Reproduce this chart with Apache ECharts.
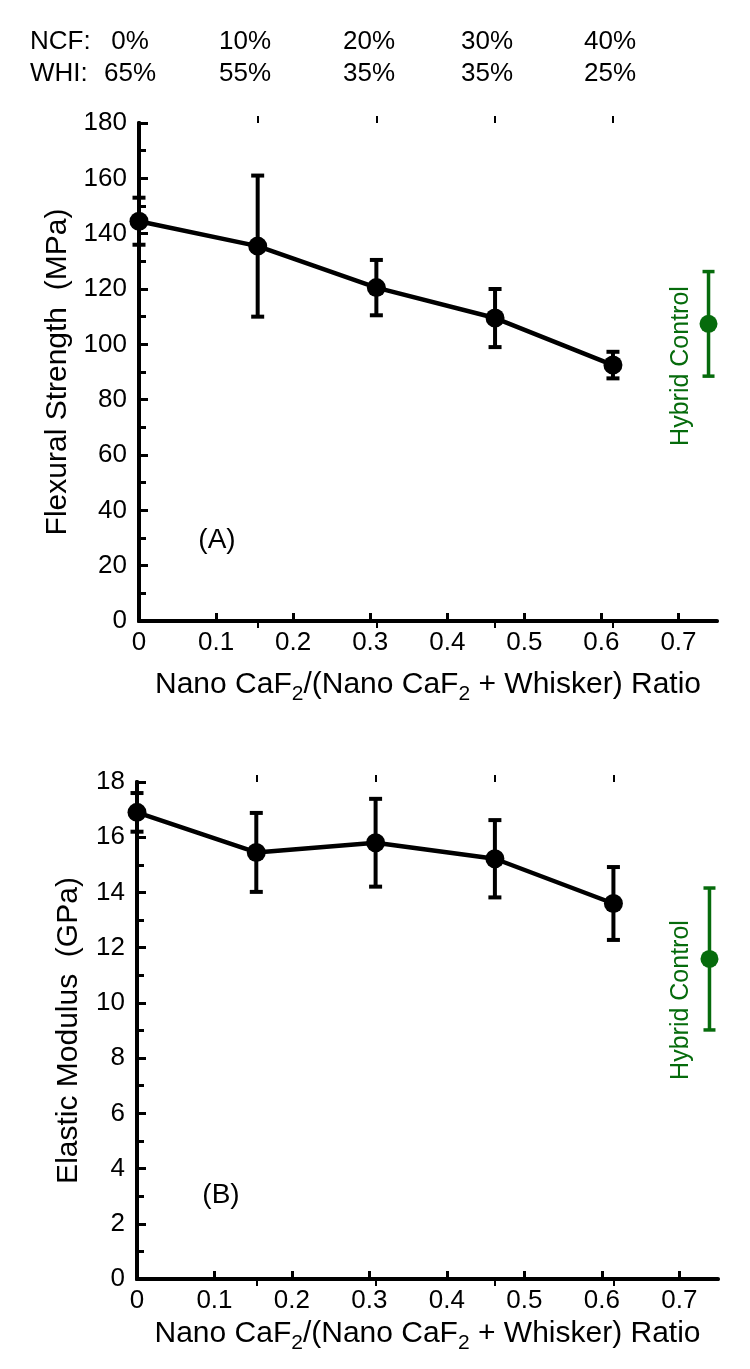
<!DOCTYPE html>
<html>
<head>
<meta charset="utf-8">
<script src="https://cdn.jsdelivr.net/npm/echarts@6/dist/echarts.min.js"></script>
<style>
html,body{margin:0;padding:0;background:#fff;}
#chart{width:750px;height:1369px;}
</style>
</head>
<body>
<div id="chart"></div>
<script>
// ---- data ----
const ratio = [0, 0.154, 0.308, 0.462, 0.615];
const ncfLabels = ['0%', '10%', '20%', '30%', '40%'];
const whiLabels = ['65%', '55%', '35%', '35%', '25%'];
const flexMean = [144.5, 135.5, 120.5, 109.5, 92.5];
const flexSD = [8.5, 25.5, 10, 10.5, 4.8];
const modMean = [16.9, 15.45, 15.8, 15.22, 13.6];
const modSD = [0.7, 1.43, 1.59, 1.4, 1.32];
const controlRatio = [0.739];
const controlFlexMean = [107.4];
const controlFlexSD = [18.9];
const controlModMean = [11.59];
const controlModSD = [2.57];
const xTicks = [0, 0.1, 0.2, 0.3, 0.4, 0.5, 0.6, 0.7];

const BLACK = '#000';
const GREEN = '#066b0c';
const FONT = 'Liberation Sans, Arial, sans-serif';

const chart = echarts.init(document.getElementById('chart'), null, {renderer: 'canvas'});

function errRender(color, lw, capW) {
  return function (params, api) {
    const x = api.value(0), lo = api.value(1), hi = api.value(2);
    const p1 = api.coord([x, lo]), p2 = api.coord([x, hi]);
    const st = {stroke: color, lineWidth: lw};
    return {
      type: 'group',
      children: [
        {type: 'line', shape: {x1: p1[0], y1: p1[1], x2: p2[0], y2: p2[1]}, style: st},
        {type: 'line', shape: {x1: p1[0] - capW / 2, y1: p1[1], x2: p1[0] + capW / 2, y2: p1[1]}, style: st},
        {type: 'line', shape: {x1: p2[0] - capW / 2, y1: p2[1], x2: p2[0] + capW / 2, y2: p2[1]}, style: st}
      ]
    };
  };
}
function errData(xs, m, s) { return xs.map((x, i) => [x, m[i] - s[i], m[i] + s[i]]); }
function pts(xs, m) { return xs.map((x, i) => [x, m[i]]); }

const xName = '{a|Nano CaF}{s|2}{a|/(Nano CaF}{s|2}{a| + Whisker) Ratio}';
const xNameStyle = {
  rich: {
    a: {fontSize: 30, fontFamily: FONT, color: BLACK, height: 32, lineHeight: 32, verticalAlign: 'top'},
    s: {fontSize: 21, fontFamily: FONT, color: BLACK, height: 50, lineHeight: 50, verticalAlign: 'top'}
  }
};

function bottomX(grid, gap) {
  return {
    type: 'value', gridIndex: grid, position: 'bottom', min: 0, max: 0.75, interval: 0.1,
    axisLine: {show: true, lineStyle: {color: BLACK, width: 4}},
    axisTick: {show: true, inside: true, length: 8, lineStyle: {color: BLACK, width: 3}, customValues: xTicks},
    axisLabel: {show: true, fontSize: 26, fontFamily: FONT, color: BLACK, margin: 9, customValues: xTicks},
    splitLine: {show: false},
    name: xName, nameLocation: 'middle', nameGap: gap, nameTextStyle: xNameStyle
  };
}
function topX(grid, inside, showLine) {
  return {
    type: 'value', gridIndex: grid, position: 'top', min: 0, max: 0.75,
    axisLine: {show: showLine, lineStyle: {color: BLACK, width: 3}},
    axisTick: {show: true, inside: inside, length: 7, lineStyle: {color: BLACK, width: 2}, customValues: ratio.slice(1)},
    axisLabel: {show: false},
    splitLine: {show: false}
  };
}
function leftY(grid, max, interval, name, gap) {
  return {
    type: 'value', gridIndex: grid, position: 'left', min: 0, max: max, interval: interval,
    axisLine: {show: true, lineStyle: {color: BLACK, width: 4}},
    axisTick: {show: true, inside: true, length: 9, lineStyle: {color: BLACK, width: 3}},
    minorTick: {show: true, splitNumber: 2, length: 7, lineStyle: {color: BLACK, width: 3}},
    axisLabel: {fontSize: 26, fontFamily: FONT, color: BLACK, margin: 12},
    splitLine: {show: false},
    name: name, nameLocation: 'middle', nameGap: gap,
    nameTextStyle: {fontSize: 30, fontFamily: FONT, color: BLACK}
  };
}
function rightY(grid, max) {
  return {
    type: 'value', gridIndex: grid, position: 'right', min: 0, max: max,
    axisLine: {show: true, lineStyle: {color: BLACK, width: 4}},
    axisTick: {show: false}, axisLabel: {show: false}, splitLine: {show: false}
  };
}

const headerGraphics = [];
const headerX = [130, 245, 369, 487, 610];
const HF = '26px ' + FONT;
headerGraphics.push({type: 'text', x: 30, y: 42, style: {text: 'NCF:', font: HF, fill: BLACK, align: 'left', verticalAlign: 'middle'}});
headerGraphics.push({type: 'text', x: 30, y: 74, style: {text: 'WHI:', font: HF, fill: BLACK, align: 'left', verticalAlign: 'middle'}});
ncfLabels.forEach((t, i) => headerGraphics.push({type: 'text', x: headerX[i], y: 42, style: {text: t, font: HF, fill: BLACK, align: 'center', verticalAlign: 'middle'}}));
whiLabels.forEach((t, i) => headerGraphics.push({type: 'text', x: headerX[i], y: 74, style: {text: t, font: HF, fill: BLACK, align: 'center', verticalAlign: 'middle'}}));

const option = {
  backgroundColor: '#fff',
  animation: false,
  grid: [
    {left: 139, top: 123, width: 578, height: 498, containLabel: false},
    {left: 137, top: 782, width: 581, height: 497, containLabel: false}
  ],
  xAxis: [
    bottomX(0, 48), topX(0, true, true), topX(0, false, false),
    bottomX(1, 39), topX(1, true, true), topX(1, false, false)
  ],
  yAxis: [
    leftY(0, 180, 20, 'Flexural Strength  (MPa)', 64), rightY(0, 180),
    leftY(1, 18, 2, 'Elastic Modulus  (GPa)', 53), rightY(1, 18)
  ],
  graphic: headerGraphics.concat([
    {type: 'text', x: 217, y: 540, style: {text: '(A)', font: '28px ' + FONT, fill: BLACK, align: 'center', verticalAlign: 'middle'}},
    {type: 'text', x: 221, y: 1195, style: {text: '(B)', font: '28px ' + FONT, fill: BLACK, align: 'center', verticalAlign: 'middle'}},
    {type: 'text', x: 681, y: 366, rotation: Math.PI / 2, style: {text: 'Hybrid Control', font: '25px ' + FONT, fill: GREEN, align: 'center', verticalAlign: 'middle'}},
    {type: 'text', x: 681, y: 1000, rotation: Math.PI / 2, style: {text: 'Hybrid Control', font: '25px ' + FONT, fill: GREEN, align: 'center', verticalAlign: 'middle'}}
  ]),
  series: [
    {type: 'custom', xAxisIndex: 0, yAxisIndex: 0, renderItem: errRender(BLACK, 4, 13), data: errData(ratio, flexMean, flexSD), encode: {x: 0, y: [1, 2]}, clip: false, z: 3},
    {type: 'line', xAxisIndex: 0, yAxisIndex: 0, data: pts(ratio, flexMean), symbol: 'circle', symbolSize: 19, clip: false,
      lineStyle: {color: BLACK, width: 4.5}, itemStyle: {color: BLACK}, z: 4},
    {type: 'custom', xAxisIndex: 0, yAxisIndex: 0, renderItem: errRender(GREEN, 3.5, 12), data: errData(controlRatio, controlFlexMean, controlFlexSD), encode: {x: 0, y: [1, 2]}, clip: false, z: 3},
    {type: 'scatter', xAxisIndex: 0, yAxisIndex: 0, data: pts(controlRatio, controlFlexMean), symbolSize: 18, itemStyle: {color: GREEN, opacity: 1}, z: 4},

    {type: 'custom', xAxisIndex: 3, yAxisIndex: 2, renderItem: errRender(BLACK, 4, 13), data: errData(ratio, modMean, modSD), encode: {x: 0, y: [1, 2]}, clip: false, z: 3},
    {type: 'line', xAxisIndex: 3, yAxisIndex: 2, data: pts(ratio, modMean), symbol: 'circle', symbolSize: 19, clip: false,
      lineStyle: {color: BLACK, width: 4.5}, itemStyle: {color: BLACK}, z: 4},
    {type: 'custom', xAxisIndex: 3, yAxisIndex: 2, renderItem: errRender(GREEN, 3.5, 12), data: errData(controlRatio, controlModMean, controlModSD), encode: {x: 0, y: [1, 2]}, clip: false, z: 3},
    {type: 'scatter', xAxisIndex: 3, yAxisIndex: 2, data: pts(controlRatio, controlModMean), symbolSize: 18, itemStyle: {color: GREEN, opacity: 1}, z: 4}
  ]
};
chart.setOption(option);
</script>
</body>
</html>
